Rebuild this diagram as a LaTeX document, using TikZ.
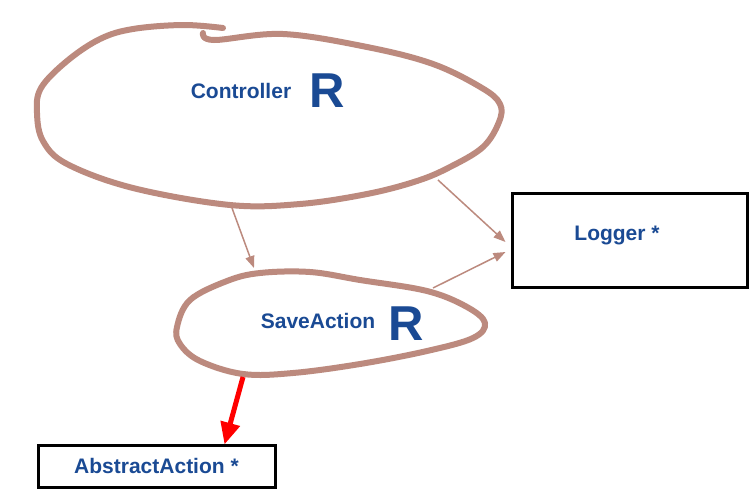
\documentclass[tikz,border=0pt]{standalone}
\usepackage{fontspec}
\setmainfont{Liberation Sans}
\usetikzlibrary{arrows.meta}
\definecolor{tan}{HTML}{BC8A7E}
\definecolor{txtblue}{HTML}{1A4A94}
\definecolor{redarr}{HTML}{FF0000}
\tikzset{
  blob/.style={draw=tan, line width=6pt, line cap=round, line join=round},
  lbl/.style={text=txtblue, font=\bfseries\fontsize{21}{25}\selectfont, inner sep=0pt},
  bigR/.style={text=txtblue, font=\bfseries\fontsize{49}{52}\selectfont, inner sep=0pt},
  boxnode/.style={draw=black, line width=3pt, inner sep=0pt, text=txtblue,
    font=\bfseries\fontsize{21}{25}\selectfont},
  tanarrow/.style={draw=tan, line width=1.5pt, -{Triangle[length=12pt,width=9pt]}},
  redarrow/.style={draw=redarr, line width=5pt, -{Triangle[length=22pt,width=19pt]}}
}
\begin{document}
\begin{tikzpicture}[x=1pt,y=-1pt]
\useasboundingbox[fill=white] (0,0) rectangle (755,496);

% Controller blob
\draw[blob] plot[smooth, tension=0.6] coordinates {
 (203,33) (214,40) (283,34) (367,47) (433,64) (482,88) (500,104) (499,122)
 (483,147) (450,167) (417,181) (367,194) (300,204) (230,205) (133,188) (67,164)
 (43,141) (37,113) (41,88) (67,61) (100,39) (133,29) (183,25) (223,28)};
\node[lbl, anchor=base] (ctrl) at (241,98) {Controller};
\node[bigR, anchor=base] (ctrlR) at (327,107) {R};

% SaveAction blob
\draw[blob] plot[smooth cycle, tension=0.6] coordinates {
 (260,273) (310,272) (360,280) (427,291) (467,307) (485,323) (473,338)
 (427,351) (360,364) (293,373) (243,374) (200,361) (180,344) (177,327)
 (190,300) (227,281)};
\node[lbl, anchor=base] (save) at (318,328) {SaveAction};
\node[bigR, anchor=base] (saveR) at (406,340) {R};

% boxes
\node[boxnode, minimum width=235pt, minimum height=94pt, text height=10pt, text depth=10pt]
  (logger) at (629.5,240) {Logger *\hspace*{25pt}\mbox{}};
\node[boxnode, minimum width=237pt, minimum height=42pt]
  (abstract) at (156.5,466) {AbstractAction *};

% anchor points on the hand-drawn outlines
\coordinate (cBot) at (232,208);
\coordinate (cRight) at (438,180);
\coordinate (sTop) at (254,268);
\coordinate (sRight) at (433,288);
\coordinate (sBot) at (243,377);
\coordinate (lgA) at ([xshift=-5pt,yshift=-2pt]logger.west);
\coordinate (lgB) at ([xshift=-5pt,yshift=-12pt]logger.west);
\coordinate (abTop) at ([xshift=68pt,yshift=-1pt]abstract.north);

% connectors
\draw[tanarrow] (cBot) -- (sTop);
\draw[tanarrow] (cRight) -- (lgA);
\draw[tanarrow] (sRight) -- (lgB);
\draw[redarrow] (sBot) -- (abTop);
\end{tikzpicture}
\end{document}
